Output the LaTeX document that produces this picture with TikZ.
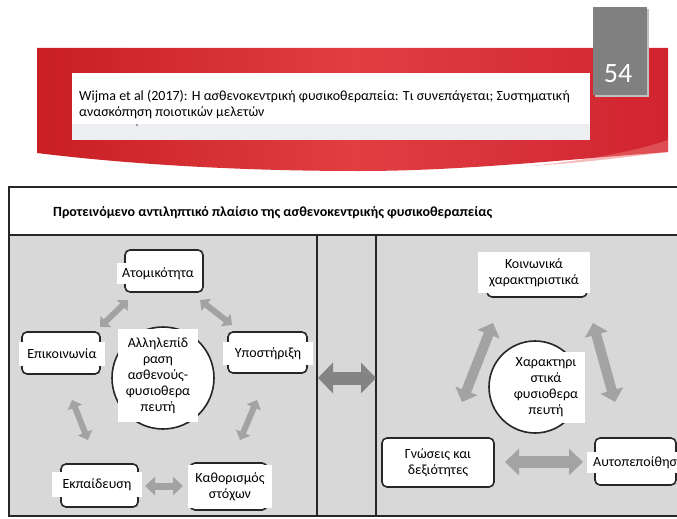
\documentclass[tikz,border=0pt]{standalone}
\usepackage{fontspec}
\setmainfont{Carlito}
\usepackage{xcolor}
\usepackage{tikz}
\usetikzlibrary{calc, arrows.meta, positioning}

\definecolor{kokkino1}{RGB}{200,30,36}
\definecolor{kokkino2}{RGB}{226,62,66}
\definecolor{kokkino3}{RGB}{208,36,48}
\definecolor{kokkino4}{RGB}{238,120,120}
\definecolor{skouro}{RGB}{128,128,128}
\definecolor{gkri}{RGB}{216,216,216}
\definecolor{gkriAnoixto}{RGB}{236,238,241}
\definecolor{perigramma}{RGB}{38,38,38}
\definecolor{belos}{RGB}{163,163,163}
\definecolor{belosSkouro}{RGB}{132,132,132}

\begin{document}
\begin{tikzpicture}[x=1pt, y=-1pt,
    kouti/.style={draw=perigramma, line width=1.6pt, rounded corners=5pt, fill=white, inner sep=0pt},
    etiketa/.style={fill=white, inner sep=0pt, align=center, font=\fontsize{14}{16}\selectfont},
    kyklos/.style={circle, draw=perigramma, line width=1.6pt, fill=white, inner sep=0pt},
    velos/.style={draw=belos, line width=6pt, <->, >={Triangle[length=8pt,width=15pt]}},
    velosMegalo/.style={draw=belos, line width=10pt, <->, >={Triangle[length=12pt,width=23pt]}}]

    % =================================================================
    % 1. ΟΡΙΑ ΣΕΛΙΔΑΣ
    % =================================================================
    \useasboundingbox (0,0) rectangle (677,519);
    \clip (0,0) rectangle (677,519);
    \fill[white] (0,0) rectangle (677,519);

    % =================================================================
    % 2. ΚΕΦΑΛΙΔΑ ΔΙΑΦΑΝΕΙΑΣ
    % =================================================================
    % Κόκκινη ταινία
    \shade[left color=kokkino1, right color=kokkino3, middle color=kokkino2]
        (37,48) -- (668,48) -- (668,152) .. controls (560,160) and (460,171) .. (360,171)
        .. controls (220,171) and (110,162) .. (37,153) -- cycle;
    \fill[kokkino4, opacity=0.5] (530,166) .. controls (590,160) and (640,150) .. (668,140)
        -- (668,152) .. controls (620,158) and (580,163) .. (530,166) -- cycle;

    % Λευκό πλαίσιο τίτλου
    \fill[white] (72,73) rectangle (590,140);
    \fill[gkriAnoixto] (72,124) rectangle (590,140);

    % Γκρι πλαίσιο αριθμού
    \fill[black!25] (595,9) rectangle (649,97);
    \fill[skouro] (593,7) rectangle (647,95);

    \node[anchor=base, text=white, font=\fontsize{28}{30}\selectfont] (arithmos) at (618,82) {54};
    \node[anchor=base west, inner sep=0pt, font=\fontsize{14}{16}\selectfont] (grammi1) at (79,100)
        {Wijma et al (2017): Η ασθενοκεντρική φυσικοθεραπεία: Τι συνεπάγεται; Συστηματική};
    \node[anchor=base west, inner sep=0pt, font=\fontsize{14}{16}\selectfont] (grammi2) at (79,116)
        {ανασκόπηση ποιοτικών μελετών};
    \fill[black!70] (137,125) circle (0.8);

    % =================================================================
    % 3. ΠΛΑΙΣΙΟ ΔΙΑΓΡΑΜΜΑΤΟΣ
    % =================================================================
    \fill[white] (9,187) rectangle (700,235);
    \fill[gkri] (9,235) rectangle (700,516);
    \draw[perigramma, line width=1.6pt] (9,187) rectangle (700,516);
    \draw[perigramma, line width=1.6pt] (9,235) -- (700,235);
    \draw[perigramma, line width=1.6pt] (317,235) -- (317,516);
    \draw[perigramma, line width=1.6pt] (376,235) -- (376,516);

    \node[anchor=base west, inner sep=0pt, font=\bfseries\fontsize{14}{16}\selectfont] (titlos) at (53,216)
        {Προτεινόμενο αντιληπτικό πλαίσιο της ασθενοκεντρικής φυσικοθεραπείας};

    % =================================================================
    % 4. ΑΡΙΣΤΕΡΟ ΤΜΗΜΑ: ΑΛΛΗΛΕΠΙΔΡΑΣΗ
    % =================================================================
    \node[kouti, minimum width=78pt, minimum height=42pt] (atomKouti) at (164,271) {};
    \node[etiketa, minimum width=82pt, minimum height=21pt] (atom) at (158,273.5) {Ατομικότητα};

    \node[kouti, minimum width=78pt, minimum height=42pt] (epikKouti) at (61,353) {};
    \node[etiketa, minimum width=86pt, minimum height=24pt] (epik) at (62,354) {Επικοινωνία};

    \node[kouti, minimum width=79pt, minimum height=41pt] (ypostKouti) at (267.5,352.5) {};
    \node[etiketa, minimum width=90pt, minimum height=23pt] (ypost) at (268,353.5) {Υποστήριξη};

    \node[kouti, minimum width=77pt, minimum height=43pt] (ekpKouti) at (99.5,485.5) {};
    \node[etiketa, minimum width=90pt, minimum height=25pt] (ekp) at (97,484.5) {Εκπαίδευση};

    \node[kouti, minimum width=77pt, minimum height=47pt] (kathKouti) at (228.5,486.5) {};
    \node[etiketa, minimum width=84pt, minimum height=43pt] (kath) at (230,486.5) {Καθορισμός\\στόχων};

    \node[kyklos, minimum size=102pt] (kentro1) at (163,378) {};
    \node[etiketa, minimum width=80pt, minimum height=93pt] (allil) at (158,375.5)
        {Αλληλεπίδ\\ραση\\ασθενούς-\\φυσιοθερα\\πευτή};

    % Βέλη αριστερού τμήματος
    \coordinate (a1) at (100,327);
    \coordinate (a2) at (128,300);
    \coordinate (b1) at (200,300);
    \coordinate (b2) at (232,325);
    \coordinate (c1) at (72,400);
    \coordinate (c2) at (88,440);
    \coordinate (d1) at (257,400);
    \coordinate (d2) at (240,440);
    \coordinate (e1) at (145,486);
    \coordinate (e2) at (183,486);

    \draw[velos] (a1) -- (a2);
    \draw[velos] (b1) -- (b2);
    \draw[velos] (c1) -- (c2);
    \draw[velos] (d1) -- (d2);
    \draw[velos, line width=7pt, >={Triangle[length=10pt,width=18pt]}] (e1) -- (e2);

    % =================================================================
    % 5. ΜΕΣΑΙΟ ΒΕΛΟΣ
    % =================================================================
    \coordinate (m1) at (318,378);
    \coordinate (m2) at (376,378);
    \draw[velos, draw=belosSkouro, line width=13pt, >={Triangle[length=15pt,width=30pt]}] (m1) -- (m2);

    % =================================================================
    % 6. ΔΕΞΙ ΤΜΗΜΑ: ΧΑΡΑΚΤΗΡΙΣΤΙΚΑ ΦΥΣΙΟΘΕΡΑΠΕΥΤΗ
    % =================================================================
    \node[kouti, minimum width=100pt, minimum height=41pt] (koinKouti) at (537,276.5) {};
    \node[etiketa, minimum width=112pt, minimum height=41pt] (koin) at (534,272.5)
        {Κοινωνικά\\χαρακτηριστικά};

    \node[kouti, minimum width=112pt, minimum height=49pt, align=center,
          font=\fontsize{14}{16}\selectfont] (gnos) at (438,462.5) {Γνώσεις και\\δεξιότητες};

    \node[kouti, minimum width=81pt, minimum height=47pt] (autoKouti) at (635.5,461.5) {};
    \node[etiketa, anchor=west, inner xsep=6pt, text width=90pt, align=left,
          minimum height=21pt] (auto) at (587,462.5) {Αυτοπεποίθησ};

    \node[kyklos, minimum size=92pt] (kentro2) at (535,387) {};
    \node[etiketa, minimum width=78pt, minimum height=71pt] (xarakt) at (546,387.5)
        {Χαρακτηρι\\στικά\\φυσιοθερα\\πευτή};

    % Βέλη δεξιού τμήματος
    \coordinate (f1) at (493,323);
    \coordinate (f2) at (462,402);
    \coordinate (g1) at (593,323);
    \coordinate (g2) at (615,402);
    \coordinate (h1) at (505,462);
    \coordinate (h2) at (583,462);

    \draw[velosMegalo] (f1) -- (f2);
    \draw[velosMegalo] (g1) -- (g2);
    \draw[velosMegalo, line width=12pt, >={Triangle[length=14pt,width=26pt]}] (h1) -- (h2);

\end{tikzpicture}
\end{document}
